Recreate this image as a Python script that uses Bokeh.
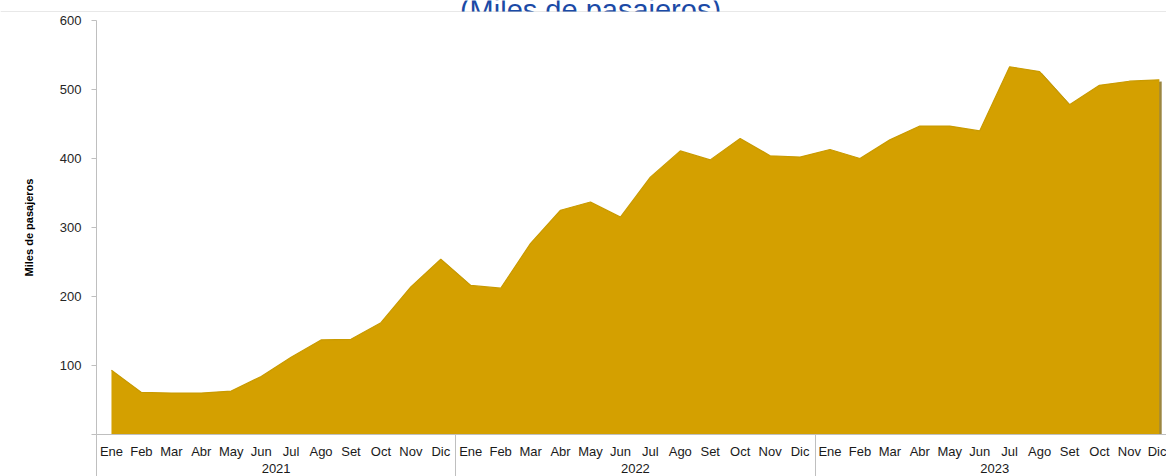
from bokeh.plotting import figure
from bokeh.layouts import column, row
from bokeh.models import Range1d, FixedTicker, LinearAxis, Span
from bokeh.core.properties import value
from bokeh.embed import file_html
from bokeh.resources import INLINE

# ---- data ----
years = ["2021", "2022", "2023"]
months = ["Ene", "Feb", "Mar", "Abr", "May", "Jun", "Jul", "Ago", "Set", "Oct", "Nov", "Dic"]
pax_2021 = [93, 61, 60, 60, 63, 84, 112, 137, 138, 162, 214, 254]
pax_2022 = [216, 212, 277, 325, 337, 315, 373, 411, 398, 429, 404, 402]
pax_2023 = [413, 400, 427, 447, 447, 440, 533, 526, 478, 506, 512, 514]
y_ticks = [0, 100, 200, 300, 400, 500, 600]
title_text = "(Miles de pasajeros)"
y_label = "Miles de pasajeros"

values = pax_2021 + pax_2022 + pax_2023
n = len(values)
xs = [i + 0.5 for i in range(n)]

FONT = "Liberation Sans"
AXIS_GRAY = "#BFBFBF"
FILL = "#D4A000"
W = 1166

# ---- top strip: clipped title with rule line under it ----
top = figure(width=W, height=12, x_range=Range1d(0, W), y_range=Range1d(0, 12),
             x_axis_type=None, y_axis_type=None,
             output_backend="svg", toolbar_location=None,
             min_border_left=0, min_border_right=0,
             min_border_top=0, min_border_bottom=0)
top.grid.visible = False
top.outline_line_color = None
top.text(x=[590], y=[2.5], text=[title_text], text_align="center",
         text_baseline="alphabetic", text_font=value(FONT),
         text_font_size="29px", text_color="#1B4AA6")
top.add_layout(Span(location=0.5, dimension="width", line_color="#D0D0D0", line_width=1))

# ---- main chart ----
p = figure(width=W, height=464,
           x_range=Range1d(0, 35.74), y_range=Range1d(0, 600),
           x_axis_type=None, y_axis_type=None,
           output_backend="svg", toolbar_location=None,
           min_border_left=96, min_border_right=0,
           min_border_top=8, min_border_bottom=42)
p.grid.visible = False
p.outline_line_color = None

# soft shadow then main area
p.varea(x=[x + 0.08 for x in xs], y1=0, y2=[v - 2.5 for v in values],
        fill_color="#7A5E00", fill_alpha=0.75)
p.varea(x=xs, y1=0, y2=values, fill_color=FILL)
p.line(x=xs, y=values, line_color="#C99A00", line_width=1.2)

# y axis
yaxis = LinearAxis(ticker=FixedTicker(ticks=y_ticks),
                   major_label_overrides={0: ""})
yaxis.axis_line_color = AXIS_GRAY
yaxis.major_tick_line_color = AXIS_GRAY
yaxis.major_tick_out = 5
yaxis.major_tick_in = 0
yaxis.minor_tick_out = 0
yaxis.minor_tick_in = 0
yaxis.major_label_standoff = 10
yaxis.major_label_text_font = FONT
yaxis.major_label_text_font_size = "13px"
yaxis.major_label_text_color = "#262626"
yaxis.axis_label = y_label
yaxis.axis_label_text_font = FONT
yaxis.axis_label_text_font_size = "11px"
yaxis.axis_label_text_font_style = "bold"
yaxis.axis_label_text_color = "#000000"
yaxis.axis_label_standoff = 22
p.add_layout(yaxis, "left")

# month axis (year separators drawn as long minor ticks)
sep = [12 * k for k in range(len(years) + 1)]
month_over = {xs[i]: months[i % 12] for i in range(n)}
maxis = LinearAxis(ticker=FixedTicker(ticks=xs, minor_ticks=sep),
                   major_label_overrides=month_over)
maxis.axis_line_color = AXIS_GRAY
maxis.major_tick_out = 0
maxis.major_tick_in = 0
maxis.major_tick_line_color = None
maxis.minor_tick_out = 42
maxis.minor_tick_in = 0
maxis.minor_tick_line_color = AXIS_GRAY
maxis.major_label_standoff = -33
maxis.major_label_text_font = FONT
maxis.major_label_text_font_size = "13px"
maxis.major_label_text_color = "#1A1A1A"
p.add_layout(maxis, "below")

# year axis
ypos = [12 * k + 6 for k in range(len(years))]
yaxis2 = LinearAxis(ticker=FixedTicker(ticks=ypos),
                    major_label_overrides={ypos[k]: years[k] for k in range(len(years))})
yaxis2.axis_line_color = None
yaxis2.major_tick_line_color = None
yaxis2.major_tick_out = 0
yaxis2.major_tick_in = 0
yaxis2.minor_tick_line_color = None
yaxis2.major_label_standoff = 2
yaxis2.major_label_text_font = FONT
yaxis2.major_label_text_font_size = "13px"
yaxis2.major_label_text_color = "#1A1A1A"
p.add_layout(yaxis2, "below")

layout = column(row(top, spacing=0), p, spacing=0)
open("out.html", "w").write(file_html(layout, INLINE))
